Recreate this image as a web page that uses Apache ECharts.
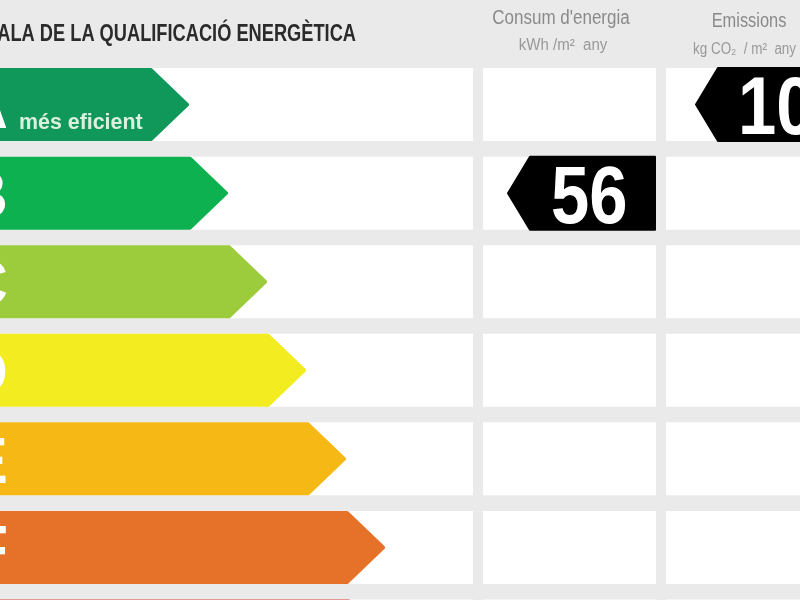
<!DOCTYPE html>
<html>
<head>
    <title>Escala de la qualificació energètica</title>
    <meta charset="UTF-8">
    <script type="text/javascript" src="https://cdn.jsdelivr.net/npm/echarts@6/dist/echarts.min.js"></script>
    <style>
        html, body { margin: 0; padding: 0; background: #ebeaea; overflow: hidden; }
    </style>
</head>
<body>
<div id="main" style="width: 800px;height:600px;"></div>
<script type="text/javascript">
    // dades llegides de la imatge
    var categories = ['A', 'B', 'C', 'D', 'E', 'F', 'G'];
    var scaleLengths = [189, 228, 267, 306, 346, 385, 387];
    var consumValues = [null, 56, null, null, null, null, null];
    var emissionValues = [10, null, null, null, null, null, null];

    var scaleColors = ['#10985a', '#0db14f', '#9ccb3c', '#f2ec20', '#f5b815', '#e57228', '#e2343a'];
    var sansFont = '"Liberation Sans", sans-serif';
    var HEAD = 38;

    function arrowRight(api, end, cy, h, color) {
        var neck = api.coord([end - HEAD, 0])[0];
        var tip = api.coord([end, 0])[0] - 2;
        return {
            type: 'polygon',
            shape: {
                points: [[-5, cy - h / 2], [neck, cy - h / 2], [tip, cy], [neck, cy + h / 2], [-5, cy + h / 2]]
            },
            style: { fill: color, stroke: color, lineWidth: 4, lineJoin: 'round' }
        };
    }

    function arrowLeft(api, tip, end, cy, h) {
        var x0 = api.coord([tip, 0])[0] + 1;
        var x1 = api.coord([end, 0])[0] - 1;
        return {
            type: 'polygon',
            shape: {
                points: [[x0, cy], [x0 + 22, cy - h / 2], [x1, cy - h / 2], [x1, cy + h / 2], [x0 + 22, cy + h / 2]]
            },
            style: { fill: '#000', stroke: '#000', lineWidth: 2, lineJoin: 'round' }
        };
    }

    function bigNumber(text, x, cy) {
        return {
            type: 'text',
            x: x,
            y: cy,
            scaleX: 0.85,
            style: {
                text: String(text), x: 0, y: 0, fill: '#fff', textAlign: 'left', textVerticalAlign: 'middle',
                fontFamily: sansFont, fontWeight: 'bold', fontSize: 81
            }
        };
    }

    function headerText(text, x, y, align, size, scale, weight, color) {
        return {
            type: 'text',
            x: x,
            y: y,
            scaleX: scale,
            style: {
                text: text, x: 0, y: 0, fill: color, textAlign: align, textVerticalAlign: 'middle',
                fontFamily: sansFont, fontWeight: weight, fontSize: size
            }
        };
    }

    function renderRow(params, api) {
        var idx = api.value(0);
        var cy = api.coord([0, idx])[1];
        var h = 73;
        var children = [];
        // els tres panells blancs de la fila
        [[0, 473], [483, 656], [666, 830]].forEach(function (col) {
            var x0 = api.coord([col[0], 0])[0];
            var x1 = api.coord([col[1], 0])[0];
            children.push({
                type: 'rect',
                shape: { x: x0, y: cy - h / 2, width: x1 - x0, height: h },
                style: { fill: '#fff' }
            });
        });
        children.push(arrowRight(api, api.value(1), cy, h - 4, scaleColors[idx]));
        children.push({
            type: 'text',
            style: {
                text: categories[idx], x: 8, y: cy + 6, fill: '#fff', textAlign: 'right', textVerticalAlign: 'middle',
                fontFamily: sansFont, fontWeight: 'bold', fontSize: 64
            }
        });
        if (idx === 0) {
            children.push({
                type: 'text',
                style: {
                    text: 'més eficient', x: 19, y: 123, fill: '#dcf0e0', textAlign: 'left', textVerticalAlign: 'middle',
                    fontFamily: sansFont, fontWeight: 'bold', fontSize: 21.4
                }
            });
        }
        if (consumValues[idx] !== null) {
            children.push(arrowLeft(api, 507, 656, cy, h));
            children.push(bigNumber(consumValues[idx], 551, cy + 7));
        }
        if (emissionValues[idx] !== null) {
            children.push(arrowLeft(api, 695, 830, cy, h));
            children.push(bigNumber(emissionValues[idx], 738, cy + 7));
        }
        return { type: 'group', children: children };
    }

    var myChart = echarts.init(document.getElementById('main'));
    myChart.setOption({
        animation: false,
        backgroundColor: '#ebeaea',
        graphic: [
            headerText('ESCALA DE LA QUALIFICACIÓ ENERGÈTICA', 356, 34, 'right', 24, 0.76, 'bold', '#2b2b2b'),
            headerText("Consum d'energia", 561, 18, 'center', 20, 0.85, 'normal', '#8a8a8a'),
            headerText('kWh /m²  any', 563, 46, 'center', 16, 0.94, 'normal', '#999'),
            headerText('Emissions', 749, 21, 'center', 20, 0.82, 'normal', '#8a8a8a'),
            headerText('kg CO₂  / m²  any', 693, 50, 'left', 16, 0.84, 'normal', '#999')
        ],
        tooltip: { show: false },
        // l'ultima fila queda tallada per la vora, com a la imatge
        grid: { left: 0, top: 60.3, width: 800, height: 620, outerBoundsMode: 'none' },
        xAxis: { type: 'value', min: 0, max: 800, show: false },
        yAxis: { type: 'category', data: categories, inverse: true, show: false },
        series: [{
            type: 'custom',
            renderItem: renderRow,
            encode: { x: 1, y: 0 },
            data: categories.map(function (c, i) { return [i, scaleLengths[i]]; })
        }]
    });
</script>
</body>
</html>
